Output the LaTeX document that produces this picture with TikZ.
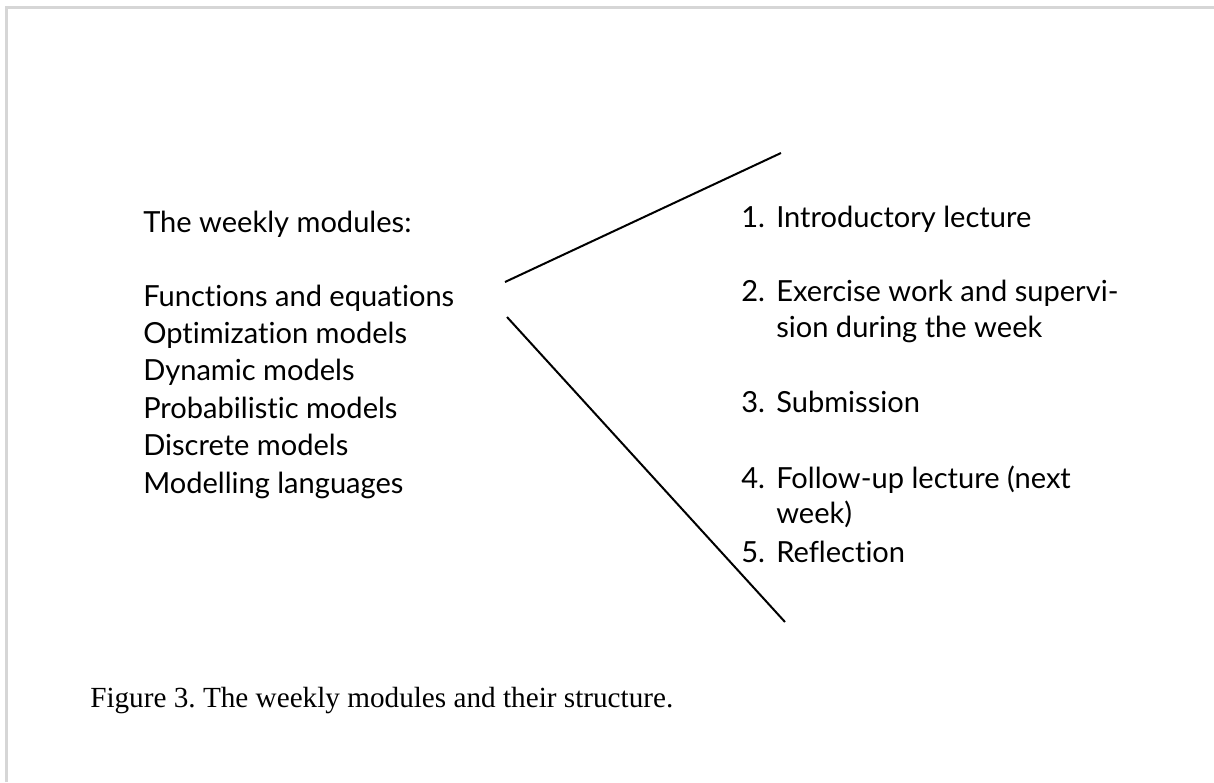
\documentclass[tikz,border=0pt]{standalone}
\usepackage{fontspec}
\setmainfont{Liberation Serif}
\newfontfamily\listfont[RawFeature={-liga,-dlig}]{Lato}
\definecolor{framegray}{HTML}{D6D6D6}
\begin{document}
\frenchspacing
\begin{tikzpicture}[x=0.75pt,y=-0.75pt,
  listtext/.style={font=\listfont\fontsize{21.8}{26}\selectfont, anchor=base west, inner sep=0pt},
  captiontext/.style={font=\fontsize{21.9}{26}\selectfont, anchor=base west, inner sep=0pt},
  bracket/.style={line width=1.5pt},
  frame/.style={draw=framegray, line width=2.25pt}]
\useasboundingbox (0,0) rectangle (1214,782);
% light frame along the left and top edges
\draw[frame] (6.5,782) -- (6.5,7.5) -- (1214,7.5);

% list of modules
\node[listtext] (title) at (143,232) {The weekly modules:};
\node[listtext] (m1) at (143,306.0) {Functions and equations};
\node[listtext] (m2) at (143,343.4) {Optimization models};
\node[listtext] (m3) at (143,380.8) {Dynamic models};
\node[listtext] (m4) at (143,418.2) {Probabilistic models};
\node[listtext] (m5) at (143,455.6) {Discrete models};
\node[listtext] (m6) at (143,493.0) {Modelling languages};

% weekly structure, numbered
\node[listtext] (n1) at (741,227) {1.};
\node[listtext] (s1) at (776,227) {Introductory lecture};
\node[listtext] (n2) at (741,301) {2.};
\node[listtext] (s2a) at (776,301) {Exercise work and supervi-};
\node[listtext] (s2b) at (776,337) {sion during the week};
\node[listtext] (n3) at (741,412) {3.};
\node[listtext] (s3) at (776,412) {Submission};
\node[listtext] (n4) at (741,488) {4.};
\node[listtext] (s4a) at (776,488) {Follow-up lecture (next};
\node[listtext] (s4b) at (776,523) {week)};
\node[listtext] (n5) at (741,562) {5.};
\node[listtext] (s5) at (776,562) {Reflection};

% the opening bracket between the two lists
\coordinate (forkA) at (505,282);
\coordinate (forkAend) at (781,153);
\coordinate (forkB) at (507,317);
\coordinate (forkBend) at (785,622);
\draw[bracket] (forkA) -- (forkAend);
\draw[bracket] (forkB) -- (forkBend);

% caption
\node[captiontext] (caption) at (90,707) {Figure 3. The weekly modules and their structure.};
\end{tikzpicture}
\end{document}
